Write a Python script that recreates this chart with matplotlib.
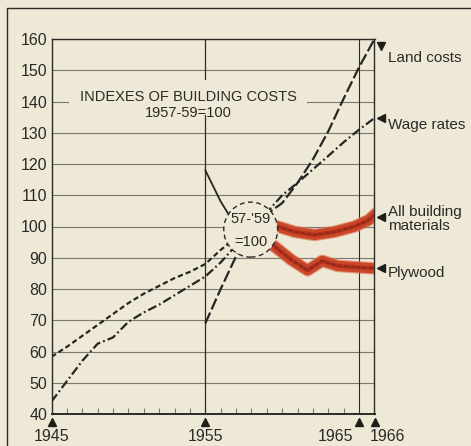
import matplotlib
matplotlib.use('Agg')
import matplotlib.pyplot as plt
from matplotlib.patches import Ellipse
from matplotlib.lines import Line2D
from matplotlib import font_manager as fm

names = {f.name for f in fm.fontManager.ttflist}
FONT = 'Liberation Sans' if 'Liberation Sans' in names else 'DejaVu Sans'
plt.rcParams['font.family'] = [FONT, 'DejaVu Sans']
plt.rcParams['lines.scale_dashes'] = False

BG = '#eee8d7'
INK = '#2c2a26'
GRID = '#7c786e'
RED = '#cc4629'
RED_GLOW = '#dc7655'
RED_DARK = '#8a2517'

# ---------------- data ----------------
y_ticks = [40, 50, 60, 70, 80, 90, 100, 110, 120, 130, 140, 150, 160]
y_tick_labels = [str(v) for v in y_ticks]
x_major = [1945, 1955, 1965, 1966]
x_major_labels = ['1945', '1955', '1965', '1966']
minor_years = list(range(1946, 1955)) + list(range(1956, 1965))

wage_years = list(range(1945, 1967))
wage_vals = [44, 50.5, 57, 62.5, 64.5, 69.5, 72.5, 75, 78, 81, 84, 88.5, 94, 100,
             104.5, 110, 114, 118.3, 122.6, 127, 131, 134.7]

bm_hist_years = list(range(1945, 1959))
bm_hist_vals = [58.3, 61.5, 65, 68.5, 72, 75.5, 78.5, 81, 83.5, 85.5, 88, 92.5, 96.5, 100]

land_years = list(range(1955, 1967))
land_vals = [69, 80, 90.5, 100, 104, 107.5, 114, 121.5, 130.5, 141, 151, 160]

ply_hist_years = [1955, 1956, 1957, 1958]
ply_hist_vals = [118, 108, 100, 97]

bm_recent_years = [1958, 1959.7, 1960.8, 1962.1, 1963.4, 1964.7, 1965.6, 1966]
bm_recent_vals = [100, 100, 98.3, 97.3, 98.3, 100, 102, 103.7]

ply_recent_years = [1958, 1959.4, 1960.6, 1961.65, 1962.6, 1963.6, 1964.7, 1966]
ply_recent_vals = [97, 94, 89.3, 86, 89, 87.4, 87, 86.6]

series_labels = ['Land costs', 'Wage rates', 'All building\nmaterials', 'Plywood']
title_line1 = 'INDEXES OF BUILDING COSTS'
title_line2 = '1957-59=100'
base_line1 = "57-'59"
base_line2 = '=100'

# ---------------- figure ----------------
W, H = 471, 446
fig = plt.figure(figsize=(W / 100, H / 100), dpi=100, facecolor=BG)
L, R, T, B = 51.5, 374.5, 39, 414
ax = fig.add_axes([L / W, 1 - B / H, (R - L) / W, (B - T) / H])
ax.set_facecolor(BG)
ax.set_xlim(1945, 1966)
ax.set_ylim(40, 160)

# outer frame (top and left visible)
fig.add_artist(Line2D([7 / W, 7 / W, 1.0], [0.0, 1 - 8 / H, 1 - 8 / H],
                      transform=fig.transFigure, color=INK, lw=1.0))

for s in ax.spines.values():
    s.set_color(INK)
    s.set_linewidth(1.0)
ax.spines['bottom'].set_linewidth(1.4)

ax.set_yticks(y_ticks)
ax.set_yticklabels(y_tick_labels, fontsize=11.5, color=INK)
ax.tick_params(axis='y', length=0, pad=3)
ax.yaxis.grid(True, color=GRID, lw=0.8)
ax.set_axisbelow(True)

ax.set_xticks([])
ax.set_xticks(minor_years, minor=True)
ax.tick_params(axis='x', which='minor', direction='in', length=4, width=0.8, color=GRID)

ax.axvline(1955, color=INK, lw=0.9, zorder=1.5)
ax.axvline(1965, color=INK, lw=0.8, zorder=1.5)

# bottom year markers and labels
ax.plot(x_major, [37.4] * len(x_major), linestyle='none', marker='^', ms=5.5,
        color='#1f1e1b', clip_on=False)
ha_list = ['center', 'center', 'right', 'left']
x_off = [0, 0, -0.4, -0.3]
for yr, lab, ha, dx in zip(x_major, x_major_labels, ha_list, x_off):
    ax.text(yr + dx, 31.3, lab, ha=ha, va='baseline', fontsize=11.5, color=INK, clip_on=False)

# black historical lines
LINE = '#262522'
ax.plot(bm_hist_years, bm_hist_vals, color=LINE, lw=1.6, linestyle=(0, (3.8, 2.2)), zorder=2.5)
ax.plot(wage_years, wage_vals, color=LINE, lw=1.6, linestyle=(0, (6.5, 2.2, 1.3, 2.2)), zorder=2.5)
ax.plot(land_years, land_vals, color=LINE, lw=1.6, linestyle=(0, (8.5, 2.5)), zorder=2.5)
ax.plot(ply_hist_years, ply_hist_vals, color=LINE, lw=1.3, zorder=2.5)

# red recent lines
for xs, ys in [(bm_recent_years, bm_recent_vals), (ply_recent_years, ply_recent_vals)]:
    ax.plot(xs, ys, color=RED_GLOW, lw=9.0, alpha=0.7, solid_joinstyle='round', zorder=3)
    ax.plot(xs, ys, color=RED, lw=7.4, solid_joinstyle='round', zorder=3.1)
    ax.plot(xs, ys, color='#b0321f', lw=3.0, solid_joinstyle='round', zorder=3.15)
    ax.plot(xs, ys, color=RED_DARK, lw=1.0, linestyle=(0, (3, 1.5)), zorder=3.2)

# base circle
circ = Ellipse((1957.95, 99), width=3.5, height=17.6, facecolor=BG, edgecolor=INK,
               lw=1.0, linestyle=(0, (3.5, 2.5)), zorder=4)
ax.add_patch(circ)
ax.text(1957.95, 102.4, base_line1, ha='center', va='center', fontsize=10.5, color=INK, zorder=5)
ax.text(1957.95, 95.2, base_line2, ha='center', va='center', fontsize=10.5, color=INK, zorder=5)

# title
ax.text(1953.9, 141.4, title_line1, ha='center', va='center', fontsize=10.5, color=INK,
        zorder=3.5, bbox=dict(boxstyle='square,pad=0.72', fc=BG, ec='none'))
ax.text(1953.9, 136.2, title_line2, ha='center', va='center', fontsize=10.5, color=INK, zorder=3.6)

# right-side labels
tri_x = 1966.42
txt_x = 1966.85
ax.plot([tri_x], [157.8], marker='v', ms=5.5, color='#1f1e1b', clip_on=False)
ax.text(txt_x, 152.6, series_labels[0], ha='left', va='baseline', fontsize=11, color=INK, clip_on=False)
ax.plot([tri_x], [134.7], marker='<', ms=5.5, color='#1f1e1b', clip_on=False)
ax.text(txt_x, 131.3, series_labels[1], ha='left', va='baseline', fontsize=11, color=INK, clip_on=False)
ax.plot([tri_x], [103.0], marker='<', ms=5.5, color='#1f1e1b', clip_on=False)
ax.text(txt_x, 102.5, series_labels[2], ha='left', va='center', fontsize=11, color=INK,
        clip_on=False, linespacing=1.0)
ax.plot([tri_x], [86.7], marker='<', ms=5.5, color='#1f1e1b', clip_on=False)
ax.text(txt_x, 84.0, series_labels[3], ha='left', va='baseline', fontsize=11, color=INK, clip_on=False)

fig.savefig('out.png', dpi=100, facecolor=BG)
